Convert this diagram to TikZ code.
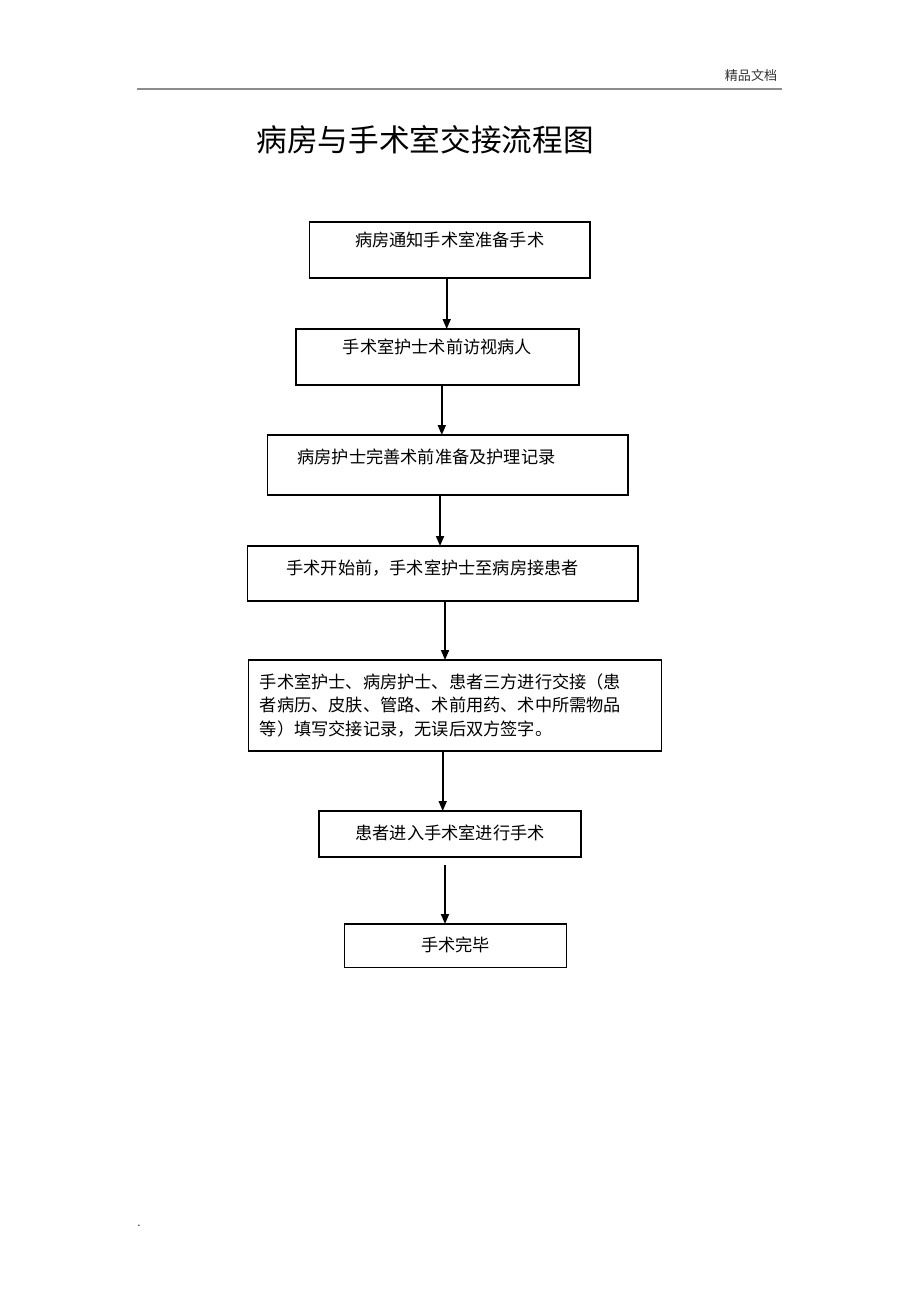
\documentclass[tikz,border=0pt]{standalone}
\usepackage{fontspec}
\newfontfamily\cjk{Noto Sans CJK SC}
\usepackage{tikz}
\usetikzlibrary{arrows.meta,shapes}
\newcommand{\boxfont}{\cjk\fontsize{12.9pt}{17.5pt}\selectfont}
\tikzstyle{stage} = [rectangle, draw, line width=0.9pt, anchor=north west,
    outer sep=0pt, font=\boxfont]
\tikzstyle{row} = [stage, text height=10.5pt, text depth=2pt]
\tikzstyle{flow} = [line width=1.3pt, -{Triangle[length=7.5pt,width=6pt]}]

\begin{document}
\begin{tikzpicture}[x=0.75pt,y=-0.75pt]
  \useasboundingbox (0,0) rectangle (920,1303);
  % page header and title
  \node[font=\cjk\fontsize{9.8pt}{11pt}\selectfont, text=black!80] (hdr) at (751,75) {精品文档};
  \draw[black!45, line width=0.8pt] (137,89) -- (782,89);
  \node[font=\cjk\fontsize{23pt}{27pt}\selectfont] (title) at (425,140) {病房与手术室交接流程图};

  \node[row, minimum width=210.4pt, minimum height=42pt, text depth=15.8pt] (note) at (309.5,222) {病房通知手术室准备手术};
  \node[row, minimum width=212.3pt, minimum height=42pt, text depth=15.8pt] (visit) at (296,329) {手术室护士术前访视病人};
  \node[row, minimum height=45pt, text depth=12.7pt, align=left,
        text width=225.4pt, inner xsep=22.5pt] (prep) at (267.5,435) {病房护士完善术前准备及护理记录};
  \node[row, minimum height=41.25pt, text depth=9.7pt, align=left,
        text width=234.4pt, inner xsep=29.25pt] (fetch) at (247.5,546) {手术开始前，手术室护士至病房接患者};
  \node[stage, minimum height=68.25pt, align=left,
        text width=292.5pt, inner xsep=8.6pt] (hand) at (248.5,660)
        {手术室护士、病房护士、患者三方进行交接（患\\
         者病历、皮肤、管路、术前用药、术中所需物品\\
         等）填写交接记录，无误后双方签字。};
  \node[row, minimum width=196.5pt, minimum height=34.5pt] (enter) at (319,811) {患者进入手术室进行手术};
  \node[row, minimum width=166.8pt, minimum height=32.5pt] (done) at (344.3,924) {手术完毕};

  \node[font=\normalsize, anchor=base] (dot) at (139,1226) {.};

  \path[flow] ([xshift=-2.3pt]note.south) edge ([xshift=-2.3pt]note.south |- visit.north);
  \path[flow] ([xshift=3.2pt]visit.south) edge ([xshift=3.2pt]visit.south |- prep.north);
  \path[flow] ([xshift=-5.8pt]prep.south) edge ([xshift=-5.8pt]prep.south |- fetch.north);
  \path[flow] ([xshift=1.7pt]fetch.south) edge ([xshift=1.7pt]fetch.south |- hand.north);
  \path[flow] ([xshift=-9.2pt]hand.south) edge ([xshift=-9.2pt]hand.south |- enter.north);
  \path[flow] ([xshift=-3.75pt,yshift=-6pt]enter.south) edge ([xshift=-3.75pt]enter.south |- done.north);
\end{tikzpicture}
\end{document}
